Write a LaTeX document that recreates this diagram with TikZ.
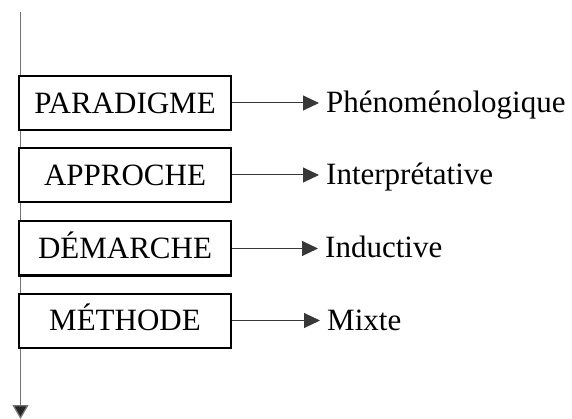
\documentclass[tikz,border=0pt]{standalone}
\usepackage{fontspec}
\setmainfont{Liberation Serif}
\usetikzlibrary{arrows.meta}
\begin{document}
\begin{tikzpicture}[x=1pt,y=-1pt,
  stage/.style={draw=black,line width=2pt,fill=white,minimum width=212pt,minimum height=54pt,
    inner sep=0pt,text height=20.5pt,text depth=0pt,font=\fontsize{31}{36}\selectfont},
  result/.style={anchor=base west,inner sep=0pt,font=\fontsize{31}{36}\selectfont},
  link/.style={draw=black!78,line width=1pt,shorten >=7pt,-{Triangle[length=16pt,width=15pt]}},
  axis/.style={draw=black!55,line width=1.3pt,-{Triangle[length=14pt,width=16pt,fill=black!85]}}]
\useasboundingbox (0,0) rectangle (572,419);

% vertical axis
\coordinate (top) at (20.5,12.5);
\coordinate (bottom) at (20.5,419);
\draw[axis] (top) -- (bottom);

% stages
\node[stage] (par) at (125,103) {PARADIGME};
\node[stage] (app) at (125,175) {APPROCHE};
\node[stage] (dem) at (125,248.5) {DÉMARCHE};
\node[stage] (met) at (125,320.5) {MÉTHODE};

% outcomes
\node[result] (phe) at (326,112.5) {Phénoménologique};
\node[result] (int) at (326,184.5) {Interprétative};
\node[result] (ind) at (325,258) {Inductive};
\node[result] (mix) at (327,330) {Mixte};

\draw[link] (par.east) -- (par.east -| phe.west);
\draw[link] (app.east) -- (app.east -| int.west);
\draw[link] (dem.east) -- (dem.east -| ind.west);
\draw[link] (met.east) -- (met.east -| mix.west);
\end{tikzpicture}
\end{document}
